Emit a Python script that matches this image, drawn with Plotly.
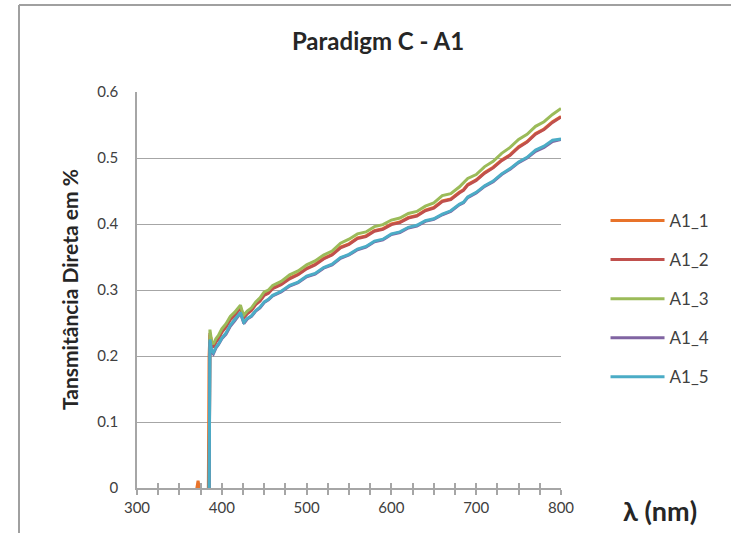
import plotly.graph_objects as go

# Wavelength grid (nm) shared by all samples
wavelength = [
    365, 370, 372, 374, 380, 384, 385,
    386, 387, 388, 390, 393, 396, 400, 405, 410, 415,
    420, 422, 424, 426, 430, 435, 440, 445, 450, 455,
    460, 470, 480, 490, 500, 510, 520, 530, 540, 550,
    560, 570, 580, 590, 600, 610, 620, 630, 640, 650,
    660, 670, 680, 685, 690, 700, 710, 720, 730, 740,
    750, 760, 770, 780, 790, 800,
]

# Direct transmittance per sample (below the absorption edge the readings are negative)
a1_1 = [
    -0.03, -0.005, 0.011, -0.005, -0.03, -0.03, 0.200,
    0.232, 0.228, 0.218, 0.214, 0.222, 0.227, 0.237, 0.245, 0.256, 0.262,
    0.271, 0.274, 0.265, 0.259, 0.265, 0.270, 0.279, 0.284, 0.293, 0.297,
    0.303, 0.309, 0.318, 0.324, 0.333, 0.339, 0.348, 0.354, 0.365, 0.370,
    0.379, 0.382, 0.390, 0.393, 0.400, 0.403, 0.410, 0.413, 0.421, 0.425,
    0.435, 0.438, 0.448, 0.452, 0.460, 0.467, 0.478, 0.486, 0.497, 0.505,
    0.517, 0.525, 0.537, 0.544, 0.555, 0.563,
]
a1_2 = [
    -0.03, -0.03, -0.03, -0.03, -0.03, -0.03, -0.03,
    0.235, 0.226, 0.217, 0.213, 0.221, 0.226, 0.236, 0.244, 0.255, 0.261,
    0.270, 0.273, 0.264, 0.258, 0.264, 0.269, 0.278, 0.283, 0.292, 0.295,
    0.302, 0.308, 0.317, 0.323, 0.332, 0.338, 0.347, 0.353, 0.364, 0.369,
    0.378, 0.381, 0.389, 0.392, 0.399, 0.402, 0.409, 0.412, 0.420, 0.424,
    0.434, 0.437, 0.447, 0.451, 0.459, 0.466, 0.477, 0.485, 0.496, 0.504,
    0.516, 0.524, 0.536, 0.543, 0.554, 0.562,
]
a1_3 = [
    -0.03, -0.03, -0.03, -0.03, -0.03, -0.03, -0.03,
    0.240, 0.232, 0.222, 0.218, 0.226, 0.231, 0.241, 0.249, 0.260, 0.266,
    0.274, 0.277, 0.268, 0.262, 0.268, 0.273, 0.282, 0.288, 0.297, 0.300,
    0.307, 0.313, 0.323, 0.329, 0.338, 0.344, 0.353, 0.359, 0.371, 0.377,
    0.385, 0.388, 0.396, 0.399, 0.406, 0.409, 0.416, 0.419, 0.427, 0.432,
    0.443, 0.446, 0.456, 0.462, 0.469, 0.475, 0.487, 0.495, 0.507, 0.516,
    0.528, 0.536, 0.548, 0.555, 0.566, 0.575,
]
a1_4 = [
    -0.03, -0.03, -0.03, -0.03, -0.03, -0.03, -0.03,
    0.222, 0.213, 0.206, 0.203, 0.212, 0.217, 0.226, 0.233, 0.245, 0.253,
    0.262, 0.265, 0.257, 0.249, 0.256, 0.260, 0.268, 0.273, 0.281, 0.285,
    0.291, 0.297, 0.306, 0.311, 0.320, 0.324, 0.333, 0.338, 0.348, 0.353,
    0.361, 0.365, 0.373, 0.376, 0.384, 0.387, 0.394, 0.397, 0.404, 0.407,
    0.414, 0.419, 0.429, 0.432, 0.440, 0.447, 0.457, 0.464, 0.475, 0.483,
    0.493, 0.500, 0.510, 0.516, 0.525, 0.528,
]
a1_5 = [
    -0.03, -0.03, -0.03, -0.03, -0.03, -0.03, -0.03,
    0.225, 0.215, 0.208, 0.205, 0.213, 0.218, 0.227, 0.235, 0.247, 0.255,
    0.264, 0.266, 0.258, 0.251, 0.257, 0.261, 0.269, 0.274, 0.282, 0.286,
    0.292, 0.298, 0.307, 0.312, 0.321, 0.325, 0.334, 0.339, 0.349, 0.354,
    0.362, 0.366, 0.374, 0.377, 0.385, 0.388, 0.395, 0.398, 0.405, 0.408,
    0.415, 0.420, 0.430, 0.433, 0.441, 0.448, 0.458, 0.465, 0.476, 0.484,
    0.494, 0.501, 0.512, 0.518, 0.527, 0.529,
]

series_names = ["A1_1", "A1_2", "A1_3", "A1_4", "A1_5"]
series_values = [a1_1, a1_2, a1_3, a1_4, a1_5]
series_colors = ["#E8732A", "#C0504D", "#9BBB59", "#8064A2", "#4BACC6"]

FONT = "Lato, 'Open Sans', sans-serif"
TEXT = "#404040"
GRID = "#a6a6a6"
FRAME = "#a0a0a0"

fig = go.Figure()
for name, vals, color in zip(series_names, series_values, series_colors):
    fig.add_trace(go.Scatter(
        x=wavelength, y=vals, name=name, mode="lines",
        line=dict(color=color, width=3),
        legendgroup=name,
    ))

# Hidden trace on the overlaid axis that carries the inward half of the ticks
fig.add_trace(go.Scatter(
    x=[300, 800], y=[None, None], xaxis="x2",
    showlegend=False, hoverinfo="skip", mode="lines",
))

fig.update_layout(
    width=731, height=533,
    margin=dict(l=137, r=170, t=92, b=45),
    paper_bgcolor="white", plot_bgcolor="white",
    font=dict(family=FONT, color=TEXT, size=15),
    title=dict(
        text="<b>Paradigm C - A1</b>",
        x=378 / 731, xref="container", xanchor="center",
        y=1 - 42 / 533, yref="container", yanchor="middle",
        font=dict(family=FONT, size=24, color="#262626"),
    ),
    showlegend=True,
    legend=dict(
        x=1.105, xanchor="left", y=0.72, yanchor="top",
        font=dict(family=FONT, size=17, color=TEXT),
        itemwidth=54, tracegroupgap=14,
        bgcolor="rgba(0,0,0,0)",
    ),
    xaxis=dict(
        range=[300, 800], dtick=100, tick0=300,
        showgrid=False, zeroline=False,
        showline=True, linecolor=GRID, linewidth=2,
        ticks="outside", ticklen=5, tickwidth=1.5, tickcolor=GRID,
        minor=dict(dtick=25, ticks="outside", ticklen=5, tickwidth=1.5, tickcolor=GRID),
        tickfont=dict(size=15, color=TEXT),
    ),
    xaxis2=dict(
        range=[300, 800], overlaying="x", anchor="y", side="bottom",
        showgrid=False, zeroline=False, showticklabels=False, showline=False,
        ticks="inside", ticklen=5, tickwidth=1.5, tickcolor=GRID, dtick=25, tick0=300,
    ),
    yaxis=dict(
        range=[0, 0.6], dtick=0.1,
        showgrid=True, gridcolor=GRID, gridwidth=1.3,
        zeroline=False, showline=True, linecolor=GRID, linewidth=1.5,
        ticks="", ticklabelstandoff=14,
        tickfont=dict(size=15, color=TEXT),
    ),
    annotations=[
        dict(
            text="<b>Tansmitância Direta em %</b>", textangle=-90,
            x=(69 - 137) / 424, y=0.5, xref="paper", yref="paper",
            xanchor="center", yanchor="middle", showarrow=False,
            font=dict(family=FONT, size=21, color="#262626"),
        ),
        dict(
            text="<b>λ (nm)</b>",
            x=(660 - 137) / 424, y=(488 - 510) / 396, xref="paper", yref="paper",
            xanchor="center", yanchor="middle", showarrow=False,
            font=dict(family=FONT, size=27, color="#262626"),
        ),
    ],
    # Chart frame: only its left and top edges fall inside the page
    shapes=[
        dict(type="line", xref="paper", yref="paper", layer="below",
             x0=(19 - 137) / 424, x1=(19 - 137) / 424,
             y0=(488 - 540) / 396, y1=(488 - 5) / 396,
             line=dict(color=FRAME, width=2)),
        dict(type="line", xref="paper", yref="paper", layer="below",
             x0=(19 - 137) / 424, x1=(740 - 137) / 424,
             y0=(488 - 5) / 396, y1=(488 - 5) / 396,
             line=dict(color=FRAME, width=2)),
    ],
)

fig.write_html("out.html")
